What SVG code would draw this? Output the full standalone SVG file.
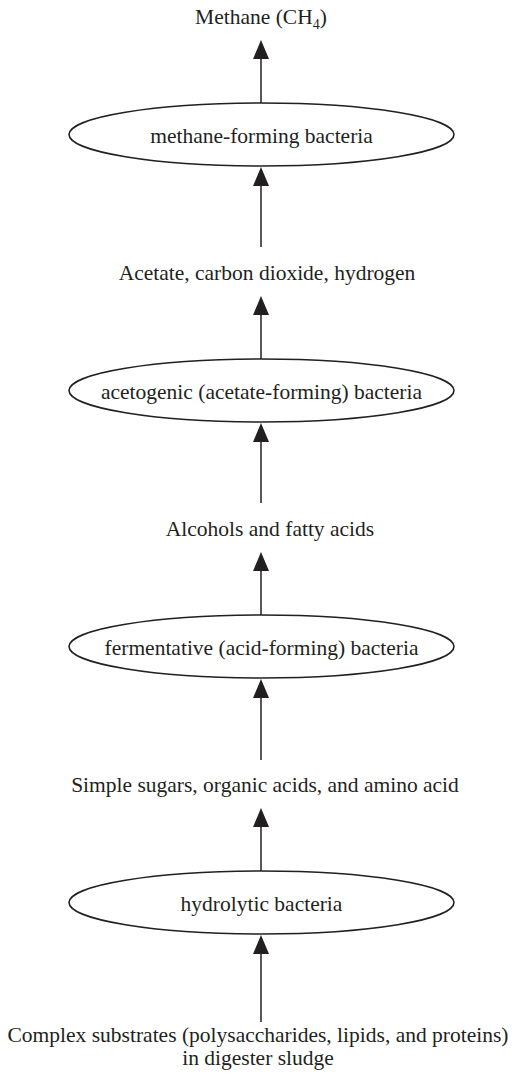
<svg xmlns="http://www.w3.org/2000/svg" width="515" height="1073" viewBox="0 0 515 1073">
  <style>
    .lbl { font-family: "Liberation Serif", "Times New Roman", serif; font-size: 21.5px; fill: #231f20; text-anchor: middle; }
    .node ellipse { fill: #ffffff; stroke: #231f20; stroke-width: 1.6; }
    .conn line { stroke: #231f20; stroke-width: 1.5; marker-end: url(#head); }
  </style>
  <defs>
    <marker id="head" viewBox="0 -8 19 16" markerWidth="19" markerHeight="16" refX="0" refY="0" orient="auto" markerUnits="userSpaceOnUse">
      <path d="M0,-8 L19,0 L0,8 z" fill="#231f20"/>
    </marker>
  </defs>

  <rect width="515" height="1073" fill="#ffffff"/>

  <!-- products / substrates -->
  <g id="methane">
    <text class="lbl" x="261" y="24">Methane (CH<tspan font-size="14" dy="5">4</tspan><tspan dy="-5">)</tspan></text>
  </g>
  <g id="acetate">
    <text class="lbl" x="267" y="280">Acetate, carbon dioxide, hydrogen</text>
  </g>
  <g id="alcohols">
    <text class="lbl" x="270" y="536">Alcohols and fatty acids</text>
  </g>
  <g id="sugars">
    <text class="lbl" x="265" y="792">Simple sugars, organic acids, and amino acid</text>
  </g>
  <g id="substrates">
    <text class="lbl" x="258" y="1042">Complex substrates (polysaccharides, lipids, and proteins)</text>
    <text class="lbl" x="258" y="1065">in digester sludge</text>
  </g>

  <!-- bacterial groups -->
  <g id="methanogens" class="node">
    <ellipse cx="261.5" cy="134.5" rx="192.5" ry="31.5"/>
    <text class="lbl" x="261.5" y="142.5">methane-forming bacteria</text>
  </g>
  <g id="acetogens" class="node">
    <ellipse cx="261.5" cy="390.5" rx="192.5" ry="31.5"/>
    <text class="lbl" x="261.5" y="398.5">acetogenic (acetate-forming) bacteria</text>
  </g>
  <g id="fermenters" class="node">
    <ellipse cx="261.5" cy="646.5" rx="192.5" ry="31.5"/>
    <text class="lbl" x="261.5" y="654.5">fermentative (acid-forming) bacteria</text>
  </g>
  <g id="hydrolyzers" class="node">
    <ellipse cx="261.5" cy="902.5" rx="192.5" ry="31.5"/>
    <text class="lbl" x="261.5" y="910.5">hydrolytic bacteria</text>
  </g>

  <!-- connectors, each ending in an arrowhead -->
  <g id="connectors" class="conn">
    <line x1="261" y1="103" x2="261" y2="59"/>
    <line x1="261" y1="247" x2="261" y2="186"/>
    <line x1="261" y1="359" x2="261" y2="315"/>
    <line x1="261" y1="503" x2="261" y2="442"/>
    <line x1="261" y1="615" x2="261" y2="571"/>
    <line x1="261" y1="760" x2="261" y2="698"/>
    <line x1="261" y1="871" x2="261" y2="827"/>
    <line x1="261" y1="1022" x2="261" y2="954"/>
  </g>
</svg>
